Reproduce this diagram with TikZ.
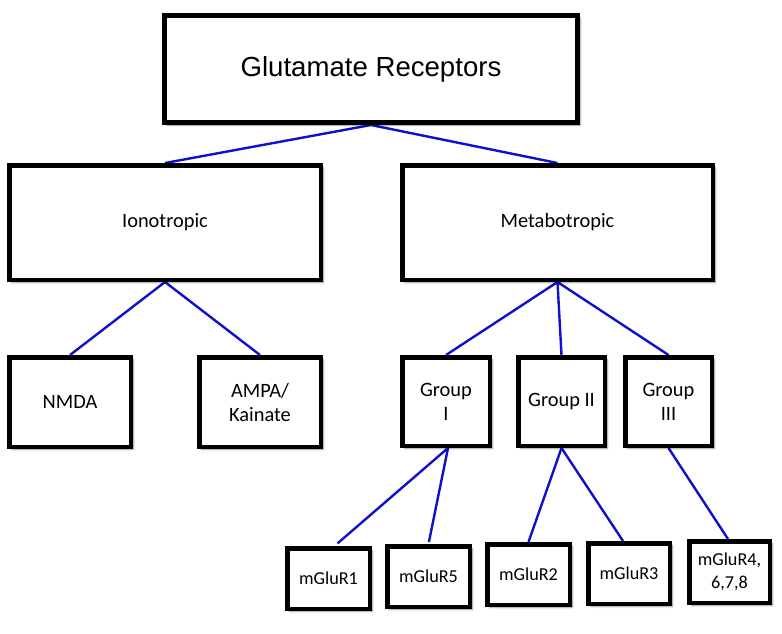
\documentclass[tikz,border=0pt]{standalone}
\usepackage{fontspec}
\setmainfont{Carlito}
\newfontfamily\arialf{Liberation Sans}
\usetikzlibrary{shadows.blur,backgrounds}
\definecolor{linkblue}{RGB}{15,15,205}
\tikzset{
  box/.style={draw=black, fill=white, rectangle, inner sep=0pt, align=center,
    blur shadow={shadow xshift=2.5pt, shadow yshift=-2.5pt, shadow blur radius=2pt, shadow blur steps=6, shadow opacity=45}},
  bigbox/.style={box, line width=5pt},
  midbox/.style={box, line width=4.5pt, font=\fontsize{20.4}{24}\selectfont},
  smallbox/.style={box, line width=4.5pt, font=\fontsize{18.2}{23}\selectfont},
  link/.style={draw=linkblue, line width=2.4pt}
}
\begin{document}
\begin{tikzpicture}[x=1pt,y=-1pt]
\useasboundingbox (0,0) rectangle (782,633);
\node[bigbox, minimum width=413pt, minimum height=107pt, font=\arialf\fontsize{27.6}{32}\selectfont] (top) at (371,69) {Glutamate Receptors};
\node[midbox, minimum width=311.5pt, minimum height=114.5pt] (iono) at (165,222.5) {Ionotropic};
\node[midbox, minimum width=310.5pt, minimum height=114.5pt] (meta) at (557.5,222.5) {Metabotropic};
\node[midbox, minimum width=121.5pt, minimum height=89.5pt] (nmda) at (70,402) {NMDA};
\node[midbox, minimum width=121.5pt, minimum height=89.5pt] (ampa) at (260,402) {AMPA/\\Kainate};
\node[midbox, minimum width=87.5pt, minimum height=88.5pt] (g1) at (446,401.5) {Group\\I};
\node[midbox, minimum width=86.5pt, minimum height=88.5pt] (g2) at (561.5,401.5) {Group II};
\node[midbox, minimum width=86.5pt, minimum height=88.5pt] (g3) at (668.5,401.5) {Group\\III};
\node[smallbox, minimum width=82.5pt, minimum height=60.5pt] (m1) at (328.5,578.5) {mGluR1};
\node[smallbox, minimum width=82.5pt, minimum height=60.5pt] (m5) at (428.5,576.5) {mGluR5};
\node[smallbox, minimum width=82.5pt, minimum height=60.5pt] (m2) at (528.5,574.5) {mGluR2};
\node[smallbox, minimum width=81.5pt, minimum height=60.5pt] (m3) at (629,573.5) {mGluR3};
\node[smallbox, minimum width=80.5pt, minimum height=61.5pt] (m4) at (729.5,572) {mGluR4,\\6,7,8};
\begin{scope}[on background layer]
\draw[link] (top.south) -- (iono.north);
\draw[link] (top.south) -- (meta.north);
\draw[link] (iono.south) -- (nmda.north);
\draw[link] (iono.south) -- (ampa.north);
\draw[link] (meta.south) -- (g1.north);
\draw[link] (meta.south) -- (g2.north);
\draw[link] (meta.south) -- (g3.north);
\draw[link, shorten >=4pt] ([xshift=2pt]g1.south) -- ([xshift=6pt]m1.north);
\draw[link, shorten >=2pt] ([xshift=2pt]g1.south) -- (m5.north);
\draw[link] (g2.south) -- (m2.north);
\draw[link] (g2.south) -- ([xshift=-6pt]m3.north);
\draw[link] (g3.south) -- ([xshift=-1.5pt]m4.north);
\end{scope}
\end{tikzpicture}
\end{document}
